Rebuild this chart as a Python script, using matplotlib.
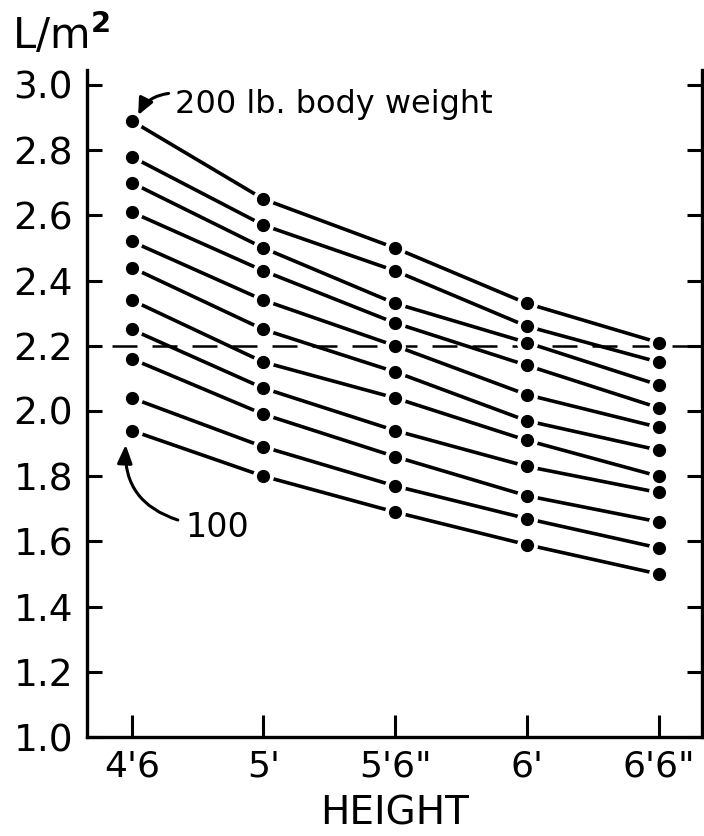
import matplotlib
matplotlib.use("Agg")
import matplotlib.pyplot as plt
from matplotlib.patches import FancyArrowPatch

heights = ["4'6", "5'", "5'6\"", "6'", "6'6\""]
weights = [100, 110, 120, 130, 140, 150, 160, 170, 180, 190, 200]
# L/m^2 at each height, ordered from 100 lb to 200 lb
h_4_6 = [1.94, 2.04, 2.16, 2.25, 2.34, 2.44, 2.52, 2.61, 2.70, 2.78, 2.89]
h_5_0 = [1.80, 1.89, 1.99, 2.07, 2.15, 2.25, 2.34, 2.43, 2.50, 2.57, 2.65]
h_5_6 = [1.69, 1.77, 1.86, 1.94, 2.04, 2.12, 2.20, 2.27, 2.33, 2.43, 2.50]
h_6_0 = [1.59, 1.67, 1.74, 1.83, 1.91, 1.97, 2.05, 2.14, 2.21, 2.26, 2.33]
h_6_6 = [1.50, 1.58, 1.66, 1.75, 1.80, 1.88, 1.95, 2.01, 2.08, 2.15, 2.21]
reference_level = 2.2
y_ticks = [1.0, 1.2, 1.4, 1.6, 1.8, 2.0, 2.2, 2.4, 2.6, 2.8, 3.0]
y_tick_labels = ["1.0", "1.2", "1.4", "1.6", "1.8", "2.0", "2.2", "2.4", "2.6", "2.8", "3.0"]

columns = [h_4_6, h_5_0, h_5_6, h_6_0, h_6_6]
xs = list(range(len(heights)))

fig = plt.figure(figsize=(7.04, 8.36), dpi=100)
ax = fig.add_axes([87/704, 99/836, (702-87)/704, (737-70)/836])

ax.plot([-0.15, 4.4], [reference_level, reference_level], color="black",
        lw=1.8, linestyle=(0, (10, 6)), zorder=1)

for i, w in enumerate(weights):
    ys = [col[i] for col in columns]
    ax.plot(xs, ys, color="black", lw=2.6, zorder=2, solid_capstyle="butt")
    ax.plot(xs, ys, linestyle="none", marker="o", ms=14, mfc="white",
            mec="white", zorder=3)
    ax.plot(xs, ys, linestyle="none", marker="o", ms=8.5, mfc="black",
            mec="black", zorder=4)

ax.set_xlim(-0.34, 4.33)
ax.set_ylim(1.0, 3.046)
ax.set_xticks(xs)
ax.set_xticklabels(heights, fontsize=26)
ax.set_yticks(y_ticks)
ax.set_yticklabels(y_tick_labels, fontsize=27)
ax.tick_params(axis="y", direction="in", length=11, width=2.2, right=True,
               pad=10)
ax.tick_params(axis="x", direction="in", length=16, width=2.2, pad=9)
ax.spines["top"].set_visible(False)
for s in ["left", "right", "bottom"]:
    ax.spines[s].set_linewidth(2.4)

ax.set_xlabel("HEIGHT", fontsize=28, labelpad=8)
fig.text(12/704, 1 - 49/836, "L/m$^\\mathbf{2}$", fontsize=30, ha="left", va="baseline")

ax.text(0.327, 2.94, "200 lb. body weight", fontsize=23, ha="left", va="center")
ax.text(0.41, 1.644, "100", fontsize=24, ha="left", va="center")

a1 = FancyArrowPatch((0.30, 2.975), (0.04, 2.90), connectionstyle="arc3,rad=0.3",
                     arrowstyle="-|>,head_length=10,head_width=4.5", lw=2.2,
                     color="black", zorder=5)
ax.add_patch(a1)
a2 = FancyArrowPatch((0.37, 1.663), (-0.045, 1.905), connectionstyle="arc3,rad=-0.4",
                     arrowstyle="-|>,head_length=11,head_width=4.5", lw=2.2,
                     color="black", zorder=5)
ax.add_patch(a2)

fig.savefig("out.png", dpi=100)
